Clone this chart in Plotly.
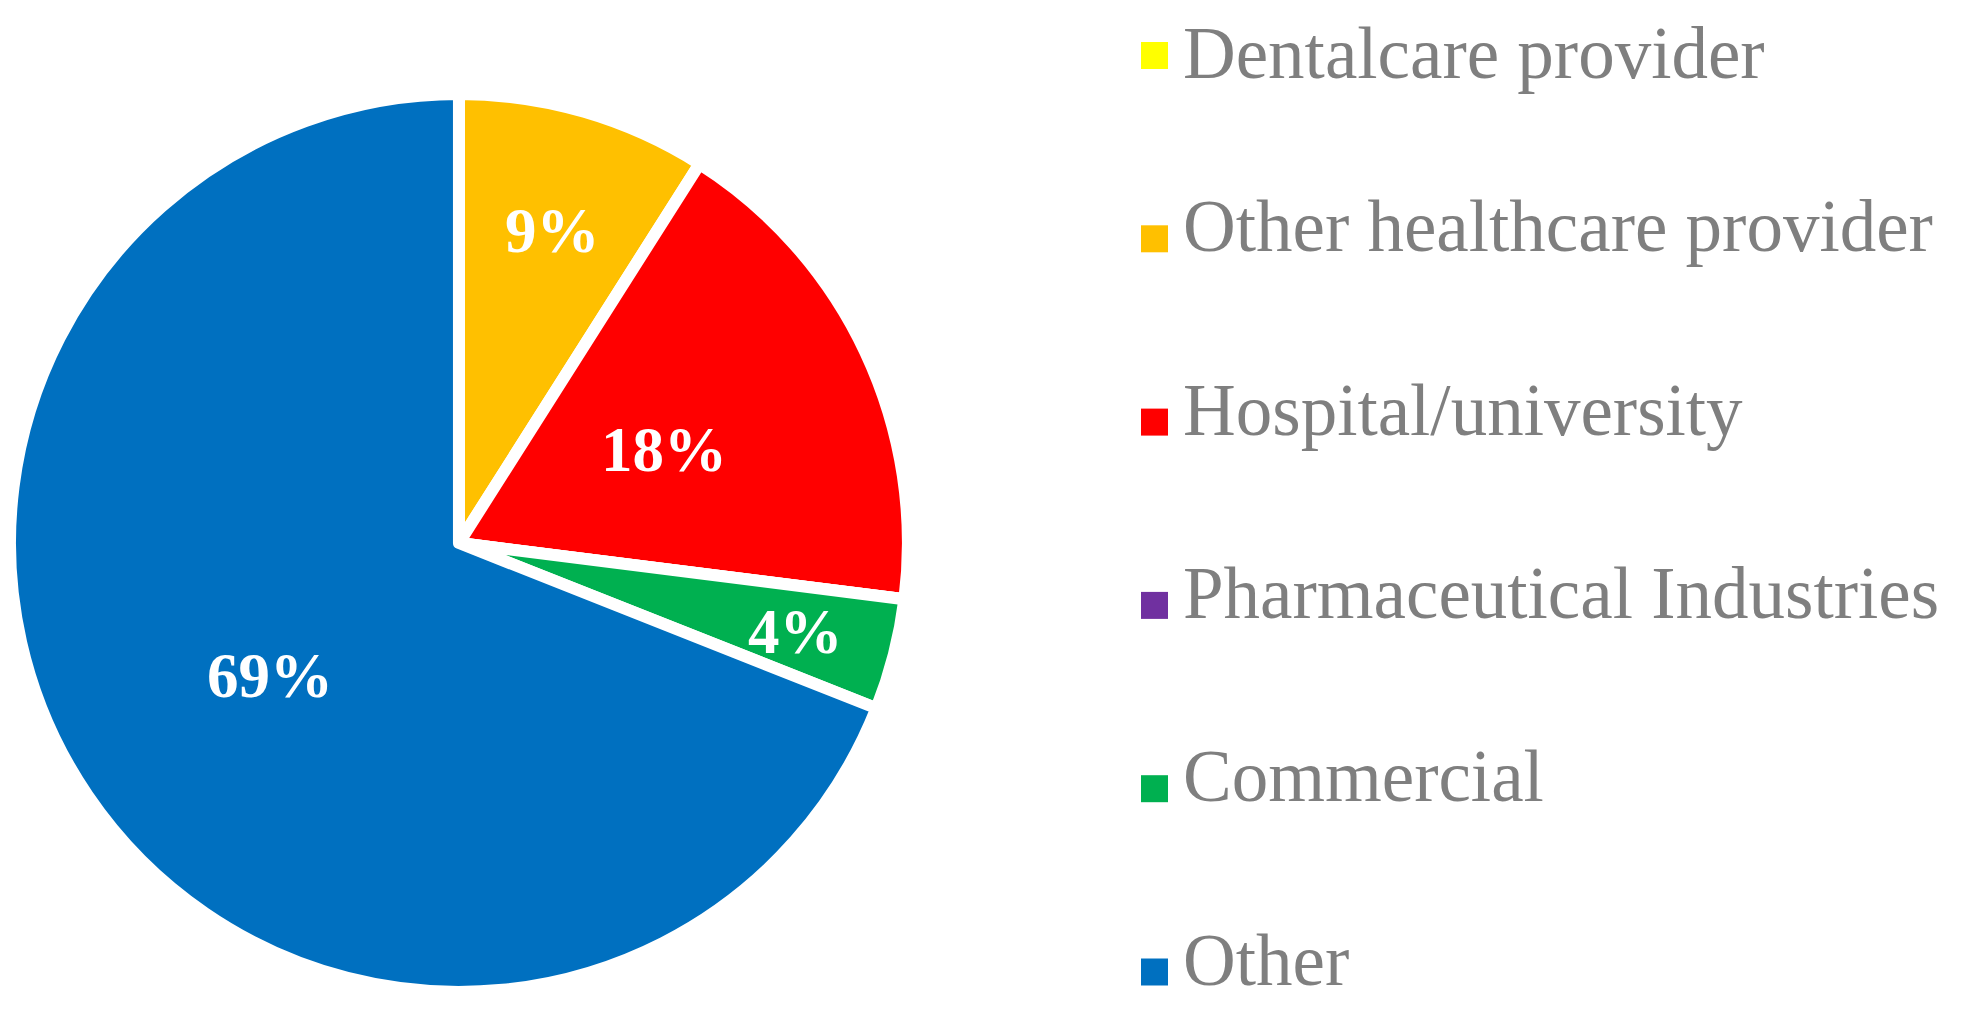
import math
import plotly.graph_objects as go

labels = ["Dentalcare provider", "Other healthcare provider", "Hospital/university",
          "Pharmaceutical Industries", "Commercial", "Other"]
values = [0, 9, 18, 0, 4, 69]
colors = ["#FFFF00", "#FFC000", "#FF0000", "#7030A0", "#00B050", "#0070C0"]

W, H = 1978, 1015
FONT = "Liberation Serif"

# layout / style parameters
PIE_CX, PIE_CY, PIE_R = 453, 543, 449            # pixel centre and radius of the pie
LABEL_RFRAC = [0.0, 0.73, 0.50, 0.0, 0.77, 0.515]  # radial placement of % labels

fig = go.Figure()
fig.add_trace(go.Pie(
    labels=labels,
    values=values,
    textinfo="none",
    marker=dict(colors=colors, line=dict(color="white", width=12)),
    sort=False,
    direction="clockwise",
    rotation=0,
    showlegend=False,
    domain=dict(x=[0.00101, 0.45497], y=[0.03054, 0.91527]),
    hoverinfo="label+percent",
))

# percentage labels placed along each slice's bisector
total = sum(values)
cum = 0
for v, rf in zip(values, LABEL_RFRAC):
    if v:
        mid = (cum + v / 2) / total * 2 * math.pi
        px = PIE_CX + rf * PIE_R * math.sin(mid)
        py = PIE_CY - rf * PIE_R * math.cos(mid)
        fig.add_annotation(xref="paper", yref="paper", x=px / W, y=1 - (py - 5) / H,
                           text=f"<b>{round(v / total * 100)}%</b>", showarrow=False,
                           xanchor="center", yanchor="middle",
                           font=dict(family=FONT, size=63, color="white"))
    cum += v

# Legend built from the category list
leg_top = 47.5
leg_step = 183.3
for i, (lab, col) in enumerate(zip(labels, colors)):
    yc = leg_top + i * leg_step
    fig.add_shape(type="rect", xref="paper", yref="paper",
                  x0=1133 / W, x1=1160 / W,
                  y0=1 - (yc + 13.5) / H, y1=1 - (yc - 13.5) / H,
                  fillcolor=col, line=dict(width=0))
    ya = max(yc - 12, 45)
    fig.add_annotation(xref="paper", yref="paper", x=1173 / W, y=1 - ya / H,
                       text=lab, showarrow=False, xanchor="left", yanchor="middle",
                       font=dict(family=FONT, size=73, color="#7F7F7F"))

fig.update_layout(
    width=W, height=H,
    margin=dict(l=0, r=0, t=0, b=0),
    paper_bgcolor="white", plot_bgcolor="white",
)

fig.write_html("out.html")
